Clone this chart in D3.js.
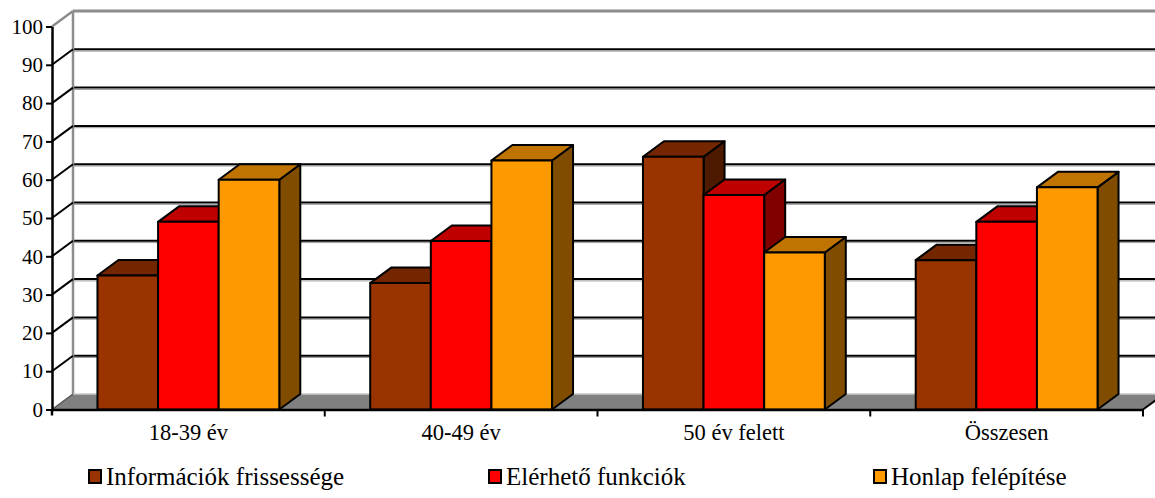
<!DOCTYPE html>
<html>
<head>
<meta charset="utf-8">
<script src="https://cdn.jsdelivr.net/npm/d3@7"></script>
<style>
  html, body { margin: 0; padding: 0; background: #fff; }
  svg { display: block; }
  svg text { font-family: "Liberation Serif", "Times New Roman", serif !important; }
</style>
</head>
<body>
<svg id="chart" width="1155" height="498"></svg>
<script>
// Survey results by age group (percent)
const categories = ["18-39 év", "40-49 év", "50 év felett", "Összesen"];
const seriesNames = ["Információk frissessége", "Elérhető funkciók", "Honlap felépítése"];
const informaciok = [35, 33, 66, 39];
const funkciok = [49, 44, 56, 49];
const honlap = [60, 65, 41, 58];
const yTicks = [0, 10, 20, 30, 40, 50, 60, 70, 80, 90, 100];

const seriesValues = [informaciok, funkciok, honlap];
const frontColors = ["#993300", "#FF0000", "#FF9900"];
const topColors = ["#732600", "#BF0000", "#BF7300"];
const sideColors = ["#4D1A00", "#800000", "#804D00"];

const W = 1155;
const left = 52, right = 1143;
const DX = 21, DY = -15.5;   // oblique depth offset of the 3D box

const svg = d3.select("#chart");

const y = d3.scaleLinear().domain([0, 100]).range([409.5, 26.5]);
const x0 = d3.scaleBand().domain(categories).range([left, right]);
const x1 = d3.scaleBand().domain(seriesNames).range([0, x0.bandwidth()]).paddingOuter(0.75);

const y0 = y(0);
const inner = yTicks.filter(v => v > 0 && v < 100);

// back wall gridlines
const back = svg.append("g");
back.selectAll("line.gshadow").data(inner).join("line")
  .attr("x1", left + DX).attr("x2", W + 5)
  .attr("y1", d => y(d) + DY + 1.8).attr("y2", d => y(d) + DY + 1.8)
  .attr("stroke", "#9a9a9a").attr("stroke-width", 1);
back.selectAll("line.grid").data(inner).join("line")
  .attr("x1", left + DX).attr("x2", W + 5)
  .attr("y1", d => y(d) + DY).attr("y2", d => y(d) + DY)
  .attr("stroke", "#000").attr("stroke-width", 2);

// wall borders
back.append("line")
  .attr("x1", left + DX).attr("x2", W + 5)
  .attr("y1", y(100) + DY).attr("y2", y(100) + DY)
  .attr("stroke", "#8c8c8c").attr("stroke-width", 3);
back.append("line")
  .attr("x1", left).attr("y1", y(100))
  .attr("x2", left + DX).attr("y2", y(100) + DY)
  .attr("stroke", "#8c8c8c").attr("stroke-width", 2.5);
back.append("line")
  .attr("x1", left + DX).attr("x2", left + DX)
  .attr("y1", y(100) + DY).attr("y2", y0 + DY)
  .attr("stroke", "#8c8c8c").attr("stroke-width", 2.5);

// side wall gridlines
back.selectAll("line.side").data(inner).join("line")
  .attr("x1", left).attr("y1", d => y(d))
  .attr("x2", left + DX).attr("y2", d => y(d) + DY)
  .attr("stroke", "#000").attr("stroke-width", 2);

// floor
const floor = [[left, y0], [right, y0], [right + DX, y0 + DY], [left + DX, y0 + DY]];
back.append("polygon")
  .attr("points", floor.map(p => p.join(",")).join(" "))
  .attr("fill", "#808080");
back.append("line")
  .attr("x1", left + DX).attr("x2", W + 5)
  .attr("y1", y0 + DY).attr("y2", y0 + DY)
  .attr("stroke", "#c8c8c8").attr("stroke-width", 1.5);
back.append("line")
  .attr("x1", left).attr("y1", y0)
  .attr("x2", left + DX).attr("y2", y0 + DY)
  .attr("stroke", "#555").attr("stroke-width", 1.5);
back.append("line")
  .attr("x1", right).attr("y1", y0)
  .attr("x2", right + DX).attr("y2", y0 + DY)
  .attr("stroke", "#000").attr("stroke-width", 2);

// bars, drawn left to right so later faces cover earlier side faces
const bars = [];
categories.forEach((c, ci) => {
  seriesNames.forEach((s, si) => {
    bars.push({ cat: c, series: s, si, value: seriesValues[si][ci] });
  });
});
const bw = x1.bandwidth();
const barG = svg.append("g").attr("stroke", "#000").attr("stroke-width", 2).attr("stroke-linejoin", "round");
bars.forEach(b => {
  const x = x0(b.cat) + x1(b.series);
  const yv = y(b.value);
  const g = barG.append("g");
  g.append("polygon")
    .attr("points", [[x + bw, yv], [x + bw + DX, yv + DY], [x + bw + DX, y0 + DY], [x + bw, y0]].map(p => p.join(",")).join(" "))
    .attr("fill", sideColors[b.si]);
  g.append("polygon")
    .attr("points", [[x, yv], [x + DX, yv + DY], [x + bw + DX, yv + DY], [x + bw, yv]].map(p => p.join(",")).join(" "))
    .attr("fill", topColors[b.si]);
  g.append("rect")
    .attr("x", x).attr("y", yv).attr("width", bw).attr("height", y0 - yv)
    .attr("fill", frontColors[b.si]);
});

// value axis
const yAxis = svg.append("g")
  .attr("transform", `translate(${left},0)`)
  .call(d3.axisLeft(y).tickValues(yTicks).tickSize(6).tickSizeOuter(0).tickPadding(3));
yAxis.select(".domain").attr("stroke", "#000").attr("stroke-width", 2.5);
yAxis.selectAll(".tick line").attr("stroke", "#000").attr("stroke-width", 2);
yAxis.selectAll(".tick text")
  .attr("font-size", 21).attr("fill", "#000");
svg.append("line")
  .attr("x1", left).attr("x2", left).attr("y1", y0).attr("y2", y0 + 6)
  .attr("stroke", "#000").attr("stroke-width", 2.5);

// category axis
const xAxis = svg.append("g")
  .attr("transform", `translate(0,${y0})`)
  .call(d3.axisBottom(x0).tickSize(0).tickPadding(15).tickSizeOuter(0));
xAxis.select(".domain").attr("stroke", "#000").attr("stroke-width", 2.5);
xAxis.selectAll(".tick text")
  .attr("font-size", 22.5).attr("fill", "#000");
xAxis.selectAll("line.sep").data(categories).join("line")
  .attr("class", "sep")
  .attr("x1", d => x0(d) + x0.step()).attr("x2", d => x0(d) + x0.step())
  .attr("y1", 0).attr("y2", 7)
  .attr("stroke", "#000").attr("stroke-width", 2);

// legend
const legendX = [88, 488, 873];
const legend = svg.append("g");
seriesNames.forEach((s, i) => {
  const g = legend.append("g").attr("transform", `translate(${legendX[i]},469)`);
  g.append("rect").attr("x", 1).attr("y", 1).attr("width", 12).attr("height", 13)
    .attr("fill", frontColors[i]).attr("stroke", "#000").attr("stroke-width", 2);
  g.append("text").attr("x", 18).attr("y", 16)
    .attr("font-size", 25).attr("fill", "#000").text(s);
});
</script>
</body>
</html>
